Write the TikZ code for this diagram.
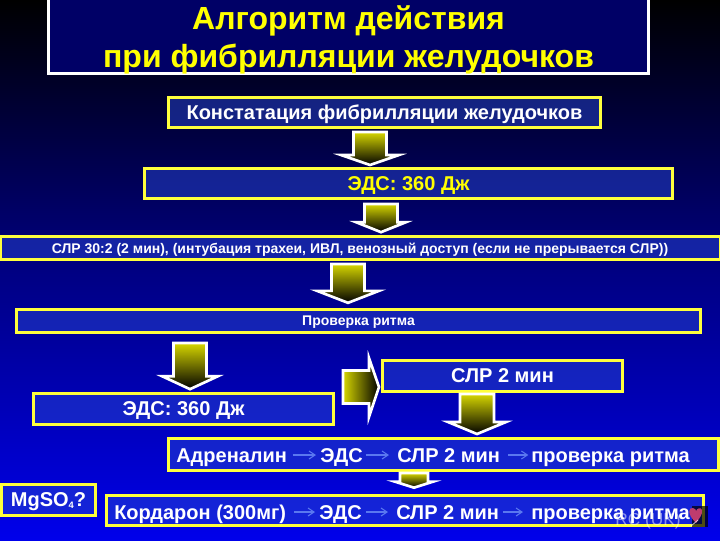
\documentclass[tikz,border=0pt]{standalone}
\usepackage{fontspec}
\setmainfont{Liberation Sans}
\usepackage{xcolor}
\usetikzlibrary{arrows.meta, calc}
\definecolor{bgblack}{RGB}{0,0,0}
\definecolor{bgnavy}{RGB}{0,0,130}
\definecolor{bgblue}{RGB}{0,0,235}
\definecolor{titlefill}{RGB}{0,0,102}
\definecolor{boxfill}{RGB}{40,70,210}
\definecolor{boxline}{RGB}{255,255,60}
\definecolor{labelyellow}{RGB}{255,255,0}
\definecolor{arrowyellow}{RGB}{215,215,0}
\definecolor{thinblue}{RGB}{90,120,240}
\definecolor{markpink}{RGB}{190,60,110}
\tikzset{
  titlebox/.style={
    rectangle, draw=white, line width=2.25pt, fill=titlefill, inner sep=0pt,
    align=center, text=labelyellow, font=\fontsize{24}{28.5}\selectfont\bfseries
  },
  stepbox/.style={
    rectangle, draw=boxline, line width=2.25pt, fill=boxfill, fill opacity=0.5, text opacity=1,
    inner sep=0pt, text depth=0pt, text=white, font=\fontsize{15}{17}\selectfont\bfseries
  },
  flowtext/.style={
    anchor=west, inner sep=0pt, text depth=0pt, text height=10.7pt, text=white,
    font=\fontsize{15}{17}\selectfont\bfseries
  },
  thinarrow/.style={-{Straight Barb[length=4.5pt,width=6pt]}, line width=0.8pt, color=thinblue},
  blockdown/.style={draw=white, line width=2pt, top color=arrowyellow, bottom color=black},
  blockright/.style={draw=white, line width=2pt, left color=arrowyellow, right color=black}
}
% block arrow going down: start, tip, half shaft, half head, head height (px)
\newcommand{\downblock}[5]{
  \path let \p1=(#1), \p2=(#2) in
    coordinate (tl) at (\x2-#3*0.75pt,\y1) coordinate (tr) at (\x2+#3*0.75pt,\y1)
    coordinate (bl) at (\x2-#3*0.75pt,\y2+#5*0.75pt) coordinate (br) at (\x2+#3*0.75pt,\y2+#5*0.75pt)
    coordinate (hl) at (\x2-#4*0.75pt,\y2+#5*0.75pt) coordinate (hr) at (\x2+#4*0.75pt,\y2+#5*0.75pt);
  \draw[blockdown] (tl) -- (tr) -- (br) -- (hr) -- (#2) -- (hl) -- (bl) -- cycle;
}
\begin{document}
\begin{tikzpicture}[x=0.75pt, y=-0.75pt]
    \useasboundingbox (0,0) rectangle (720,540);
    % background
    \fill[top color=bgblack, bottom color=bgnavy] (0,0) rectangle (720,270);
    \fill[top color=bgnavy, bottom color=bgblue] (0,270) rectangle (720,540);

    % boxes
    \node[titlebox, minimum width=450pt, minimum height=55pt] (title) at (348.5,35.5)
      {\rule{0pt}{24pt}Алгоритм действия\\при фибрилляции желудочков};
    \node[stepbox, minimum width=324pt, minimum height=22.5pt] (state) at (384.5,112.5)
      {Констатация фибрилляции желудочков};
    \node[stepbox, minimum width=396pt, minimum height=22.5pt, text=labelyellow] (shock) at (408.5,183.5) {ЭДС: 360 Дж};
    \node[stepbox, minimum width=540pt, minimum height=17pt,
      font=\fontsize{10.5}{12}\selectfont\bfseries] (cpr) at (360,248)
      {СЛР 30:2 (2 мин), (интубация трахеи, ИВЛ, венозный доступ (если не прерывается СЛР))};
    \node[stepbox, minimum width=513pt, minimum height=17.5pt,
      font=\fontsize{10.5}{12}\selectfont\bfseries] (check) at (358.5,321) {Проверка ритма};
    \node[stepbox, minimum width=225pt, minimum height=23pt] (shocktwo) at (183.5,409) {ЭДС: 360 Дж};
    \node[stepbox, minimum width=180pt, minimum height=23pt] (cprtwo) at (502.5,376) {СЛР 2 мин};
    \node[stepbox, minimum width=412pt, minimum height=24pt] (adren) at (443.5,454.5) {};
    \node[stepbox, minimum width=70pt, minimum height=23pt] (mgso) at (48.5,500) {MgSO\raisebox{-1.5pt}{\fontsize{7}{8}\selectfont 4}?};
    \node[stepbox, minimum width=448pt, minimum height=23pt] (kord) at (405,510.5) {};

    % big arrows
    \coordinate (atop) at (369,132);
    \downblock{atop}{$(shock.north)+(-38.5,-2)$}{16.5}{29}{10}
    \coordinate (btop) at (381,204);
    \downblock{btop}{$(cpr.north)+(21,-3)$}{16.5}{25}{10}
    \coordinate (ctop) at (348,264);
    \downblock{ctop}{$(check.north)+(-10.5,-5)$}{16.5}{31}{12}
    \coordinate (dtop) at (191,343);
    \downblock{dtop}{$(shocktwo.north)+(6.5,-3)$}{16.5}{28}{13}
    \coordinate (etop) at (477,394);
    \downblock{etop}{$(adren.north)+(33.5,-3)$}{17}{29}{12}
    \coordinate (ftop) at (413,473);
    \downblock{ftop}{$(kord.north)+(9,-6)$}{14}{19}{6}
    \draw[blockright] (343,370.5) -- (369,370.5) -- (369,358) -- (379,387)
      -- (369,417) -- (369,403.5) -- (343,403.5) -- cycle;

    % flow texts
    \node[flowtext] (adrena) at (176,455) {Адреналин};
    \node[flowtext] (adrenb) at (320,455) {ЭДС};
    \node[flowtext] (adrenc) at (397,455) {СЛР 2 мин};
    \node[flowtext] (adrend) at (531,455) {проверка ритма};
    \draw[thinarrow, shorten <=4pt, shorten >=3pt] (adrena) -- (adrenb);
    \draw[thinarrow, shorten <=2pt, shorten >=6pt] (adrenb) -- (adrenc);
    \draw[thinarrow, shorten <=6pt, shorten >=2pt] (adrenc) -- (adrend);

    \node[flowtext] (korda) at (114,512) {Кордарон (300мг)};
    \node[flowtext] (kordb) at (319,512) {ЭДС};
    \node[flowtext] (kordc) at (396,512) {СЛР 2 мин};
    \node[flowtext] (kordd) at (531,512) {проверка ритма};
    \draw[thinarrow, shorten <=6pt, shorten >=3pt] (korda) -- (kordb);
    \draw[thinarrow, shorten <=3pt, shorten >=6pt] (kordb) -- (kordc);
    \draw[thinarrow, shorten <=3pt, shorten >=6pt] (kordc) -- (kordd);

    % mark in the corner
    \fill[black, opacity=0.7] (692,506) rectangle (708,527);
    \fill[markpink] (696,523) .. controls (686,513) and (689,507) .. (693,508)
      .. controls (695,508) and (696,510) .. (696,511)
      .. controls (697,508) and (701,507) .. (702,510)
      .. controls (703,514) and (699,519) .. (696,523) -- cycle;
    \draw[white, opacity=0.7, line width=0.6pt] (691,526) -- (698,520);
    \node[anchor=west, inner sep=0pt, text=white, text opacity=0.5, font=\fontsize{13}{15}\selectfont] (mark) at (615,521) {RC (UK)};
\end{tikzpicture}
\end{document}
